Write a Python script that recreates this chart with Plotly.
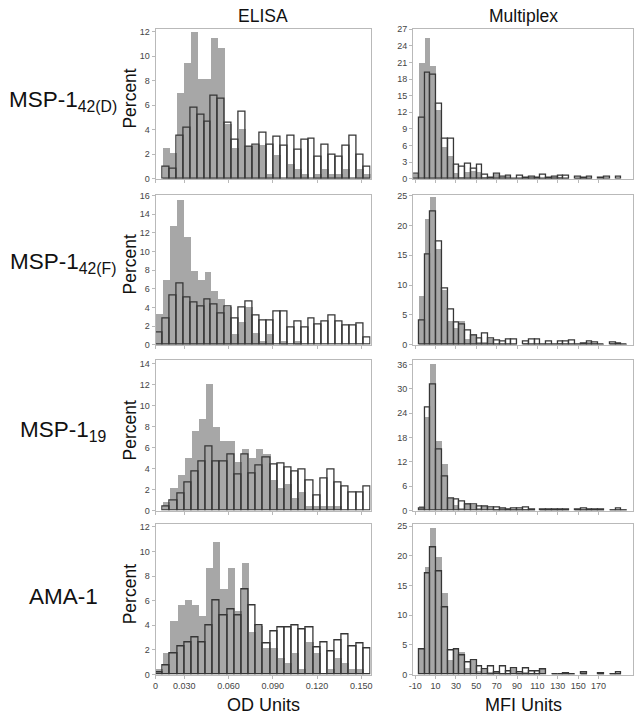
import plotly.graph_objects as go

W, H = 638, 719

# ---------------- labels ----------------
row_names = ["MSP-1<sub>42(D)</sub>", "MSP-1<sub>42(F)</sub>", "MSP-1<sub>19</sub>", "AMA-1"]
col_titles = ["ELISA", "Multiplex"]
x_titles = ["OD Units", "MFI Units"]

# ---------------- ELISA (OD) axis / bins ----------------
od_axis_start = 0.0105
od_axis_end = 0.1562
od_bins_per_row = [31, 31, 30, 30]
od_tick_vals = [0.0105, 0.03, 0.06, 0.09, 0.12, 0.15]
od_tick_text = ["0", "0.030", "0.060", "0.090", "0.120", "0.150"]

# ---------------- Multiplex (MFI) axis / bins ----------------
mfi_axis_start = -12.0
mfi_axis_end = 203.84
mfi_bins_per_row = [38, 38, 38, 38]
mfi_tick_vals = [-10, 10, 30, 50, 70, 90, 110, 130, 150, 170]
mfi_tick_text = ["-10", "10", "30", "50", "70", "90", "110", "130", "150", "170"]

# ---------------- ELISA percentages (filled grey / open outlined) ----------------
elisa_42d_filled = [0, 2.5, 2.1, 7.0, 9.5, 12.0, 8.2, 8.2, 11.5, 10.7, 4.5, 2.5, 4.1, 2.7, 2.8, 2.8,
                    0.4, 2.0, 0, 1.2, 0.8, 0.4, 0, 0.4, 0.8, 0.4, 0.4, 0.8, 0, 0.8, 0.4]
elisa_42d_open = [0, 1.0, 0.8, 3.5, 4.2, 5.8, 5.2, 4.7, 6.8, 6.5, 4.6, 3.2, 5.5, 2.6, 2.8, 3.8,
                  2.8, 3.4, 2.7, 3.5, 2.4, 3.2, 3.3, 1.8, 2.8, 2.0, 1.8, 2.7, 3.5, 2.0, 1.0]

elisa_42f_filled = [3.3, 7.0, 12.8, 15.6, 11.6, 8.0, 7.0, 7.8, 5.8, 4.9, 4.1, 1.2, 2.5, 4.1, 1.3, 0.4,
                    1.2, 0, 0.4, 0, 0.4, 0, 0, 0, 0, 0, 0, 0, 0, 0, 0]
elisa_42f_open = [1.3, 2.8, 5.3, 6.6, 5.1, 4.5, 4.1, 4.8, 4.3, 3.3, 4.1, 2.8, 4.0, 4.6, 3.1, 2.6,
                  2.6, 3.5, 3.6, 1.8, 2.5, 1.8, 2.8, 2.2, 2.5, 3.1, 2.5, 2.1, 2.1, 2.3, 0.8]

elisa_19_filled = [0, 0.8, 2.1, 3.3, 5.0, 7.5, 8.7, 12.0, 7.9, 6.6, 6.6, 4.6, 5.8, 5.0, 5.8, 5.3,
                   2.9, 2.1, 2.5, 1.2, 1.7, 0.4, 0.4, 0.4, 0.4, 0.4, 0, 0, 0, 0]
elisa_19_open = [0, 0.4, 1.0, 1.6, 2.7, 3.7, 4.7, 6.1, 4.7, 4.7, 5.3, 3.4, 5.3, 3.5, 4.3, 5.1,
                 4.4, 4.5, 4.1, 3.7, 3.9, 2.9, 1.4, 3.1, 3.9, 2.7, 2.3, 1.7, 1.7, 2.3]

elisa_ama_filled = [0.4, 1.7, 4.3, 5.6, 6.0, 5.6, 4.7, 8.6, 10.7, 6.9, 8.6, 5.1, 9.0, 3.4, 3.9, 2.1,
                    2.1, 1.3, 0.9, 1.7, 0.4, 2.6, 1.7, 0, 0.4, 1.3, 0.9, 0.4, 0.4, 0]
elisa_ama_open = [0.2, 0.7, 1.7, 2.3, 2.6, 3.0, 2.6, 4.0, 6.0, 4.8, 5.3, 4.8, 6.9, 5.6, 4.0, 2.5,
                  3.5, 3.8, 3.8, 4.0, 3.7, 3.8, 2.2, 2.6, 1.9, 2.8, 3.3, 2.3, 2.5, 2.1]

# ---------------- Multiplex percentages ----------------
mpx_42d_filled = [1.0, 21.0, 25.5, 20.5, 12.4, 5.8, 4.2, 1.1, 0.3, 1.3, 1.4, 1.2, 0.3, 0.2, 0.9, 0.3,
                  0.6, 0.1, 0.1, 0.2, 0.4, 0.2, 0.2, 0.2, 0.4, 0.4, 0.1, 0, 0.1, 0.2, 0.1, 0, 0, 0, 0, 0, 0, 0]
mpx_42d_open = [1.0, 11.0, 19.1, 18.8, 13.5, 7.3, 7.2, 2.6, 2.2, 2.7, 1.8, 2.5, 0.7, 0.2, 0.9, 0.3,
                0.6, 0.1, 0.6, 0.2, 0.4, 0.2, 0.8, 0.2, 0.4, 0.5, 0.6, 0, 0.4, 0.2, 0.4, 0, 0.2, 0.3, 0, 0.4, 0, 0]

mpx_42f_filled = [0, 8.2, 21.1, 24.9, 16.2, 9.2, 4.0, 2.9, 4.0, 1.1, 1.9, 0.5, 0.5, 1.0, 0.2, 0.1,
                  0.2, 0.2, 0, 0.3, 0.2, 0.2, 0.1, 0.2, 0.1, 0.3, 0.2, 0.2, 0.1, 0.2, 0.5, 0.3, 0.1, 0, 0.3, 0.2, 0.1, 0]
mpx_42f_open = [0, 4.1, 15.2, 22.4, 17.3, 9.4, 5.9, 3.7, 3.3, 2.4, 1.6, 1.0, 1.9, 1.0, 0.7, 0.5,
                0.8, 0.8, 0, 0.5, 0.8, 0.8, 0.1, 0.6, 0.1, 0.5, 0.5, 0.7, 0.1, 0.2, 0.6, 0.3, 0.1, 0, 0.3, 0.2, 0.1, 0]

mpx_19_filled = [0, 1.1, 23.0, 36.0, 17.1, 11.3, 3.1, 1.3, 0.5, 1.8, 1.2, 0.5, 1.0, 0.6, 0.2, 0.4,
                 0.1, 0.1, 0.1, 0.1, 0.1, 0, 0.2, 0.2, 0.2, 0.2, 0.2, 0, 0.2, 0.2, 0.1, 0.1, 0.1, 0, 0.1, 0.1, 0.1, 0]
mpx_19_open = [0, 0.4, 25.5, 31.0, 15.0, 8.5, 2.9, 2.8, 2.2, 1.6, 1.6, 1.0, 0.9, 0.8, 0.8, 0.5,
               0.3, 0.5, 0.5, 0.7, 0.3, 0, 0.2, 0.2, 0.2, 0.2, 0.2, 0, 0.2, 0.5, 0.3, 0.3, 0.3, 0, 0.1, 0.5, 0.1, 0]

mpx_ama_filled = [0, 4.3, 18.0, 24.7, 19.7, 13.6, 2.4, 4.2, 3.7, 1.1, 2.2, 0.5, 0.7, 0.3, 0.4, 0.2,
                  0.2, 0.9, 0.2, 0.3, 0.2, 0.2, 0.8, 0, 0.1, 0.1, 0.2, 0.1, 0, 0.3, 0, 0, 0.1, 0, 0.1, 0.1, 0, 0]
mpx_ama_open = [0, 4.3, 17.0, 21.4, 17.4, 11.3, 4.1, 4.3, 3.2, 2.1, 2.4, 1.4, 0.9, 1.4, 0.4, 1.3,
                0.5, 1.0, 0.4, 1.0, 0.5, 0.5, 0.8, 0, 0.1, 0.1, 0.2, 0.1, 0, 0.3, 0, 0, 0.2, 0, 0.1, 0.4, 0, 0]

elisa_filled = [elisa_42d_filled, elisa_42f_filled, elisa_19_filled, elisa_ama_filled]
elisa_open = [elisa_42d_open, elisa_42f_open, elisa_19_open, elisa_ama_open]
mpx_filled = [mpx_42d_filled, mpx_42f_filled, mpx_19_filled, mpx_ama_filled]
mpx_open = [mpx_42d_open, mpx_42f_open, mpx_19_open, mpx_ama_open]

elisa_ymax = [12.25, 16.1, 14.3, 12.2]
elisa_dtick = [2, 2, 2, 2]
mpx_ymax = [27.1, 25.2, 37.0, 25.3]
mpx_dtick = [3, 5, 6, 5]

# ---------------- layout geometry (pixels) ----------------
col_px = [(153, 370), (413, 635)]
row_px = [(25, 177), (193, 345), (361, 513), (527, 679)]

GREY = "#a7a7a7"
EDGE = "#363636"
FRAME = "#b9b9b9"
TICKC = "#444444"


def px_x(p):
    return p / W


def px_y(p):
    return 1 - p / H


fig = go.Figure()
layout = dict(
    width=W, height=H, margin=dict(l=0, r=0, t=0, b=0),
    paper_bgcolor="white", plot_bgcolor="white",
    barmode="overlay", showlegend=False, bargap=0,
    font=dict(family="Arial, Liberation Sans, sans-serif", color="#111"),
)

for r in range(4):
    for c in range(2):
        n = 2 * r + c + 1
        xa = "x" if n == 1 else f"x{n}"
        ya = "y" if n == 1 else f"y{n}"
        if c == 0:
            a0, a1, nb = od_axis_start, od_axis_end, od_bins_per_row[r]
            filled, opened = elisa_filled[r], elisa_open[r]
            ymax, dt = elisa_ymax[r], elisa_dtick[r]
            tv, tt = od_tick_vals, od_tick_text
        else:
            a0, a1, nb = mfi_axis_start, mfi_axis_end, mfi_bins_per_row[r]
            filled, opened = mpx_filled[r], mpx_open[r]
            ymax, dt = mpx_ymax[r], mpx_dtick[r]
            tv, tt = mfi_tick_vals, mfi_tick_text
        bw = (a1 - a0) / nb
        centers = [a0 + bw * (i + 0.5) for i in range(len(filled))]
        fig.add_trace(go.Bar(
            x=centers, y=[v if v > 0 else None for v in filled], width=bw,
            marker=dict(color=GREY, line=dict(width=0)),
            xaxis=xa, yaxis=ya, hoverinfo="skip"))
        fig.add_trace(go.Bar(
            x=centers, y=[v if v > 0 else None for v in opened], width=bw,
            marker=dict(color="rgba(0,0,0,0)", line=dict(color=EDGE, width=1.3)),
            xaxis=xa, yaxis=ya, hoverinfo="skip"))
        x0, x1 = col_px[c]
        y0, y1 = row_px[r]
        layout["xaxis" if n == 1 else f"xaxis{n}"] = dict(
            domain=[px_x(x0), px_x(x1)], anchor=ya,
            range=[a0, a1],
            showgrid=False, zeroline=False,
            showline=True, linecolor=FRAME, linewidth=1, mirror=True,
            ticks="outside", ticklen=3, tickcolor=FRAME,
            tickvals=tv, ticktext=tt,
            showticklabels=(r == 3),
            tickfont=dict(size=9, color=TICKC),
        )
        layout["yaxis" if n == 1 else f"yaxis{n}"] = dict(
            domain=[px_y(y1), px_y(y0)], anchor=xa,
            range=[0, ymax], dtick=dt, tick0=0,
            showgrid=False, zeroline=False,
            showline=True, linecolor=FRAME, linewidth=1, mirror=True,
            ticks="outside", ticklen=3, tickcolor=FRAME,
            tickfont=dict(size=9, color=TICKC),
        )

annotations = []
# column titles
for c, t in enumerate(col_titles):
    cx = (col_px[c][0] + col_px[c][1]) / 2
    annotations.append(dict(text=t, x=px_x(cx), y=px_y(12), xref="paper", yref="paper",
                            showarrow=False, font=dict(size=17.5, color="#111"),
                            xanchor="center", yanchor="middle"))
# x titles
for c, t in enumerate(x_titles):
    cx = (col_px[c][0] + col_px[c][1]) / 2
    annotations.append(dict(text=t, x=px_x(cx), y=px_y(710), xref="paper", yref="paper",
                            showarrow=False, font=dict(size=18, color="#111"),
                            xanchor="center", yanchor="middle"))
# row labels and Percent titles
row_label_y = [98, 262, 432, 600]
for r, name in enumerate(row_names):
    annotations.append(dict(text=name, x=px_x(60), y=px_y(row_label_y[r]), xref="paper", yref="paper",
                            showarrow=False, font=dict(size=22.5, color="#111"),
                            xanchor="center", yanchor="middle"))
    cy = (row_px[r][0] + row_px[r][1]) / 2 - 5
    annotations.append(dict(text="Percent", x=px_x(127), y=px_y(cy), xref="paper", yref="paper",
                            showarrow=False, textangle=-90, font=dict(size=17.5, color="#111"),
                            xanchor="center", yanchor="middle"))
layout["annotations"] = annotations

fig.update_layout(**layout)
fig.write_html("out.html", config={"displayModeBar": False},
               post_script="document.body.style.margin='0';document.body.style.padding='0';")
